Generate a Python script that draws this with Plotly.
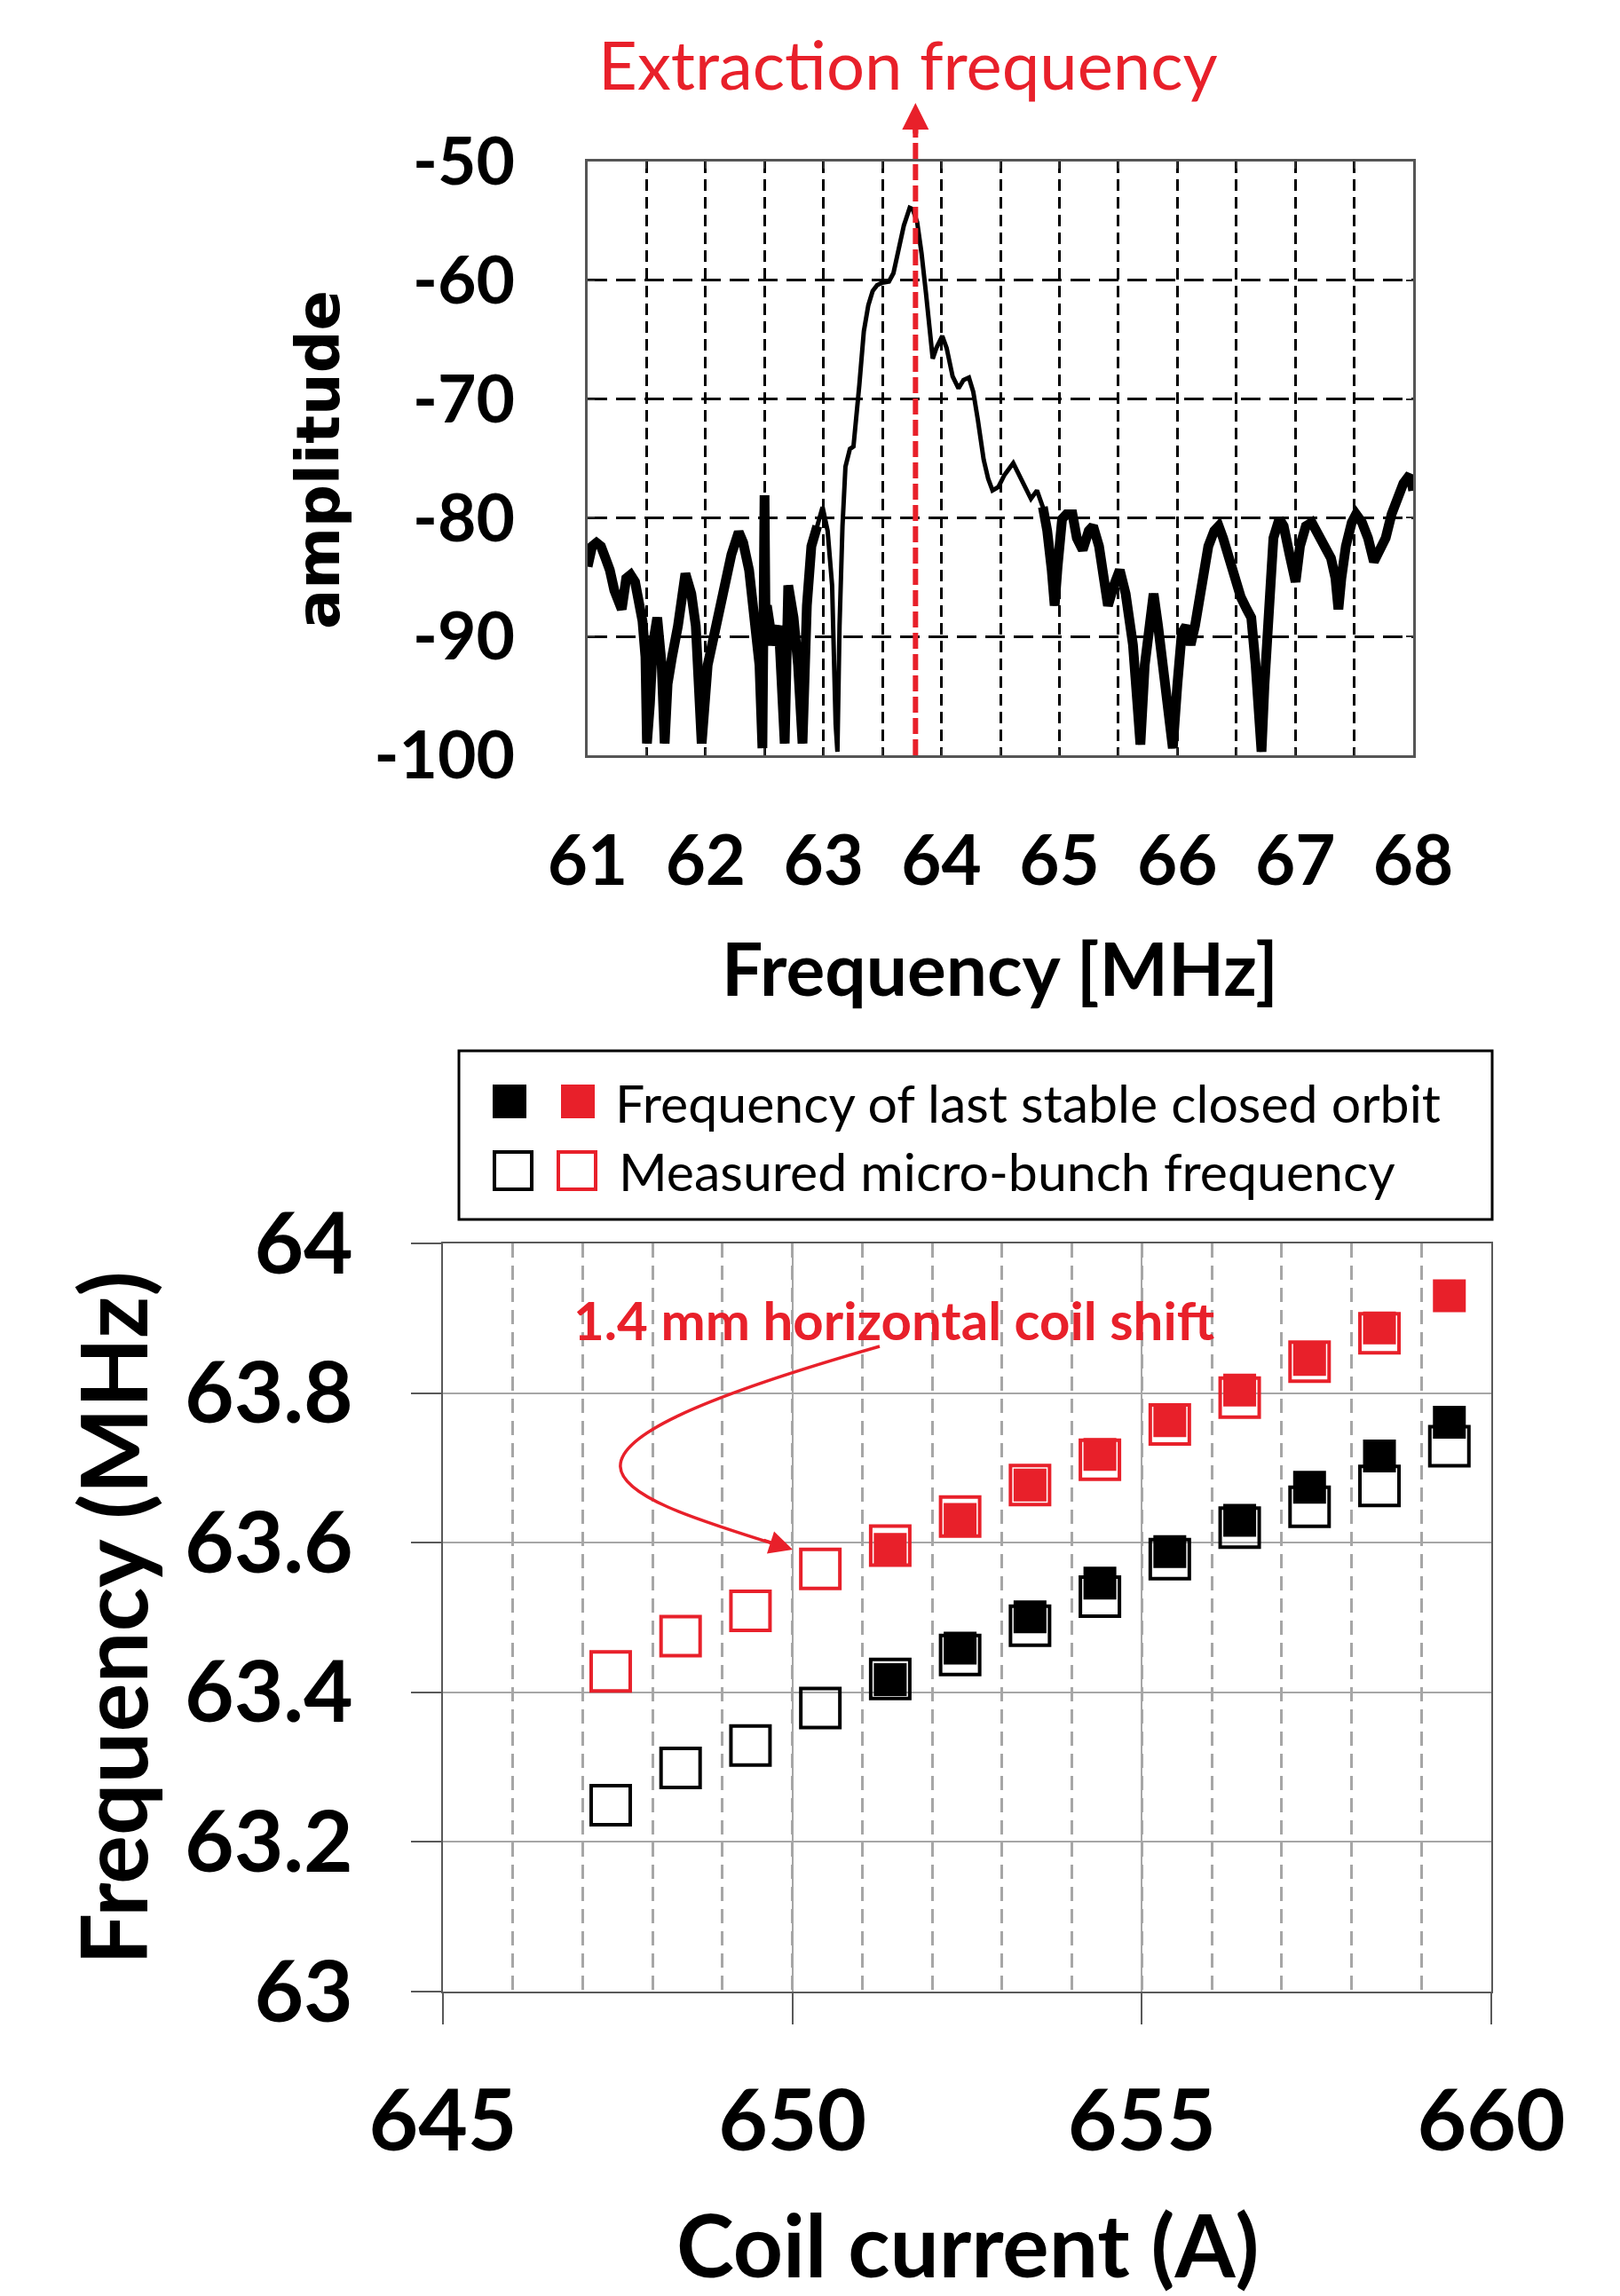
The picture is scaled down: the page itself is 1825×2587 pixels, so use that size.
import plotly.graph_objects as go

# ---------------- data: spectrum (top panel) ----------------
SPEC_FREQ_MHZ = [
    61.000, 61.038, 61.075, 61.113, 61.151, 61.188, 61.226, 61.264, 61.289, 61.327,
    61.364, 61.402, 61.440, 61.465, 61.490, 61.503, 61.528, 61.553, 61.590, 61.628,
    61.653, 61.678, 61.716, 61.766, 61.829, 61.879, 61.917, 61.967, 62.018, 62.068,
    62.118, 62.168, 62.219, 62.281, 62.319, 62.369, 62.420, 62.457, 62.482, 62.500,
    62.508, 62.520, 62.570, 62.621, 62.671, 62.701, 62.746, 62.784, 62.822, 62.859,
    62.897, 62.947, 62.992, 63.035, 63.073, 63.103, 63.118, 63.136, 63.161, 63.186,
    63.224, 63.254, 63.279, 63.304, 63.342, 63.380, 63.417, 63.455, 63.500, 63.555,
    63.593, 63.630, 63.681, 63.731, 63.756, 63.794, 63.831, 63.869, 63.901, 63.926,
    63.957, 64.007, 64.044, 64.095, 64.145, 64.187, 64.233, 64.270, 64.308, 64.358,
    64.396, 64.433, 64.483, 64.534, 64.609, 64.672, 64.722, 64.759, 64.810, 64.860,
    64.897, 64.935, 64.960, 64.985, 65.023, 65.060, 65.111, 65.148, 65.198, 65.249,
    65.286, 65.336, 65.387, 65.412, 65.462, 65.512, 65.562, 65.624, 65.662, 65.687,
    65.724, 65.762, 65.799, 65.837, 65.875, 65.912, 65.962, 66.000, 66.038, 66.075,
    66.113, 66.150, 66.188, 66.226, 66.263, 66.313, 66.351, 66.388, 66.439, 66.489,
    66.539, 66.589, 66.627, 66.664, 66.689, 66.714, 66.739, 66.777, 66.815, 66.865,
    66.902, 66.952, 67.003, 67.040, 67.090, 67.140, 67.190, 67.241, 67.303, 67.341,
    67.366, 67.391, 67.429, 67.479, 67.516, 67.566, 67.617, 67.667, 67.717, 67.767,
    67.817, 67.867, 67.917, 67.955, 67.980, 68.000,
]
SPEC_AMP_DB = [
    -84.1, -82.4, -82.1, -82.4, -83.4, -84.4, -86.1, -87.4, -87.7, -85.1,
    -84.8, -85.4, -87.1, -88.7, -91.7, -99.0, -95.7, -90.7, -88.4, -92.4,
    -99.0, -94.0, -91.7, -89.1, -84.7, -86.4, -89.1, -99.0, -92.4, -90.1,
    -87.4, -85.7, -83.1, -81.2, -82.1, -84.4, -88.4, -92.4, -99.4, -78.1,
    -88.0, -87.4, -90.7, -89.1, -99.0, -85.7, -88.4, -92.4, -99.0, -87.4,
    -82.4, -80.7, -79.1, -81.1, -85.7, -97.4, -99.7, -89.1, -80.7, -75.7,
    -74.2, -74.0, -71.6, -68.8, -64.3, -62.1, -60.9, -60.4, -60.2, -60.1,
    -59.4, -57.7, -55.4, -53.9, -54.0, -55.1, -57.7, -61.1, -64.1, -66.6,
    -65.7, -64.7, -65.7, -68.1, -69.1, -68.4, -68.2, -69.4, -71.7, -75.1,
    -76.7, -77.7, -77.4, -76.4, -75.4, -76.7, -77.7, -78.4, -77.7, -79.1,
    -81.1, -84.4, -87.4, -84.1, -80.1, -79.7, -79.7, -81.7, -82.7, -81.1,
    -80.7, -82.4, -85.1, -87.4, -85.7, -84.4, -86.4, -90.7, -95.7, -99.1,
    -92.4, -88.4, -86.4, -89.1, -92.4, -95.7, -99.4, -94.1, -89.7, -89.1,
    -90.7, -89.1, -86.4, -84.4, -82.4, -81.1, -80.7, -81.7, -83.4, -85.1,
    -86.7, -87.7, -88.4, -92.4, -96.4, -99.7, -94.1, -85.7, -81.7, -80.1,
    -80.7, -83.1, -85.4, -82.4, -80.7, -80.4, -81.4, -82.4, -83.4, -85.1,
    -87.7, -85.1, -82.4, -80.4, -79.7, -80.4, -81.7, -83.7, -82.7, -81.7,
    -79.7, -78.1, -77.1, -76.6, -76.7, -77.7,
]
EXTRACTION_FREQ_MHZ = 63.78
TOP_X_TICKS = [61, 62, 63, 64, 65, 66, 67, 68]
TOP_Y_TICKS = [-50, -60, -70, -80, -90, -100]

# ---------------- data: frequency vs coil current (bottom panel) ----------------
CURRENT_MEAS_BLACK_A = [647.4, 648.4, 649.4, 650.4, 651.4, 652.4, 653.4, 654.4,
                        655.4, 656.4, 657.4, 658.4, 659.4]
MEAS_FREQ_BLACK_MHZ = [63.249, 63.299, 63.329, 63.379, 63.418, 63.450, 63.489, 63.528,
                       63.578, 63.620, 63.648, 63.676, 63.729]
CURRENT_MEAS_RED_A = [647.4, 648.4, 649.4, 650.4, 651.4, 652.4, 653.4, 654.4,
                      655.4, 656.4, 657.4, 658.4]
MEAS_FREQ_RED_MHZ = [63.428, 63.475, 63.509, 63.565, 63.596, 63.635, 63.677, 63.711,
                     63.758, 63.794, 63.842, 63.880]
CURRENT_ORBIT_A = [651.4, 652.4, 653.4, 654.4, 655.4, 656.4, 657.4, 658.4, 659.4]
ORBIT_FREQ_BLACK_MHZ = [63.417, 63.459, 63.501, 63.546, 63.588, 63.630, 63.674, 63.716, 63.761]
ORBIT_FREQ_RED_MHZ = [63.591, 63.631, 63.677, 63.718, 63.763, 63.804, 63.845, 63.887, 63.930]
BOTTOM_X_TICKS = [645, 650, 655, 660]
BOTTOM_Y_TICKS = [63, 63.2, 63.4, 63.6, 63.8, 64]
BOTTOM_Y_TICKTEXT = ["63", "63.2", "63.4", "63.6", "63.8", "64"]

# ---------------- layout helpers (reference pixel -> paper) ----------------
W, H, OFF = 1817, 2579, 8


def xp(px):
    return (px - OFF) / W


def yp(py):
    return 1 - (py - OFF) / H


RED = "#E8202A"
CAL = "Lato, 'Open Sans', sans-serif"
VER = "'DejaVu Sans', Verdana, sans-serif"

# bottom plot pixel frame (used for annotation geometry)
B_L, B_R, B_T, B_B = 499, 1680, 1401, 2244


def x2d(px):
    return 645 + (px - B_L) / (B_R - B_L) * 15


def y2d(py):
    return 64 - (py - B_T) / (B_B - B_T)


fig = go.Figure()

# spectrum: smooth line + thicker overlay for the noisy portions
fig.add_trace(go.Scatter(x=SPEC_FREQ_MHZ, y=SPEC_AMP_DB, mode="lines",
                         line=dict(color="black", width=5), xaxis="x", yaxis="y",
                         hoverinfo="skip"))
noisy_y = [a if (f < 62.95 or f > 64.85) else None for f, a in zip(SPEC_FREQ_MHZ, SPEC_AMP_DB)]
fig.add_trace(go.Scatter(x=SPEC_FREQ_MHZ, y=noisy_y, mode="lines",
                         line=dict(color="black", width=11), xaxis="x", yaxis="y",
                         connectgaps=False, hoverinfo="skip"))

# bottom markers
fig.add_trace(go.Scatter(x=CURRENT_ORBIT_A, y=ORBIT_FREQ_BLACK_MHZ, mode="markers",
                         marker=dict(symbol="square", size=37, color="black", line=dict(width=0)),
                         xaxis="x2", yaxis="y2"))
fig.add_trace(go.Scatter(x=CURRENT_ORBIT_A, y=ORBIT_FREQ_RED_MHZ, mode="markers",
                         marker=dict(symbol="square", size=37, color=RED, line=dict(width=0)),
                         xaxis="x2", yaxis="y2"))
fig.add_trace(go.Scatter(x=CURRENT_MEAS_BLACK_A, y=MEAS_FREQ_BLACK_MHZ, mode="markers",
                         marker=dict(symbol="square-open", size=44, color="black",
                                     line=dict(width=4, color="black")),
                         xaxis="x2", yaxis="y2"))
fig.add_trace(go.Scatter(x=CURRENT_MEAS_RED_A, y=MEAS_FREQ_RED_MHZ, mode="markers",
                         marker=dict(symbol="square-open", size=44, color=RED,
                                     line=dict(width=4, color=RED)),
                         xaxis="x2", yaxis="y2"))

fig.update_layout(
    template="none",
    width=W, height=H, autosize=False,
    margin=dict(l=0, r=0, t=0, b=0, pad=0, autoexpand=False),
    paper_bgcolor="white", plot_bgcolor="white",
    showlegend=False,
    xaxis=dict(
        domain=[xp(662), xp(1592)], range=[61, 68], anchor="y", automargin=False,
        tickmode="array", tickvals=TOP_X_TICKS, ticktext=[str(v) for v in TOP_X_TICKS],
        ticks="inside", ticklen=8, tickwidth=2, tickcolor="#333",
        showline=True, linecolor="#555", linewidth=3, mirror="ticks",
        showgrid=True, gridcolor="black", gridwidth=2.5, griddash="13px,7px",
        minor=dict(dtick=0.5, tick0=61, ticks="inside", ticklen=8, tickwidth=2, tickcolor="#333",
                   showgrid=True, gridcolor="black", gridwidth=2.5, griddash="13px,7px"),
        zeroline=False, tickfont=dict(family=CAL, size=78, color="black", weight="bold"),
        ticklabelstandoff=49,
    ),
    yaxis=dict(
        domain=[yp(851), yp(182)], range=[-100, -50], anchor="x", automargin=False,
        tickmode="array", tickvals=TOP_Y_TICKS, ticktext=[str(v) for v in TOP_Y_TICKS],
        ticks="inside", ticklen=8, tickwidth=2, tickcolor="#333",
        showline=True, linecolor="#555", linewidth=3, mirror="ticks",
        showgrid=True, gridcolor="black", gridwidth=2.5, griddash="22px,10px",
        zeroline=False, tickfont=dict(family=CAL, size=75, color="black", weight="bold"),
        ticklabelstandoff=64,
    ),
    xaxis2=dict(
        domain=[xp(B_L), xp(B_R)], range=[645, 660], anchor="y2", automargin=False,
        tickmode="array", tickvals=BOTTOM_X_TICKS, ticktext=[str(v) for v in BOTTOM_X_TICKS],
        ticks="outside", ticklen=35, tickwidth=2, tickcolor="#595959",
        showline=True, linecolor="#595959", linewidth=2, mirror=True,
        showgrid=True, gridcolor="#a6a6a6", gridwidth=2,
        minor=dict(dtick=1, tick0=645, showgrid=True, gridcolor="#a6a6a6", gridwidth=3,
                   griddash="16px,9px", ticks=""),
        zeroline=False, tickfont=dict(family=CAL, size=96, color="black", weight="bold"),
        ticklabelstandoff=27,
    ),
    yaxis2=dict(
        domain=[yp(B_B), yp(B_T)], range=[63, 64], anchor="x2", automargin=False,
        tickmode="array", tickvals=BOTTOM_Y_TICKS, ticktext=BOTTOM_Y_TICKTEXT,
        ticks="outside", ticklen=34, tickwidth=2, tickcolor="#595959",
        showline=True, linecolor="#595959", linewidth=2, mirror=True,
        showgrid=True, gridcolor="#a6a6a6", gridwidth=2,
        zeroline=False, tickfont=dict(family=CAL, size=96, color="black", weight="bold"),
        ticklabelstandoff=46,
    ),
)

shapes = []
# extraction frequency marker (dashed red line extending above the plot)
shapes.append(dict(type="line", xref="x", yref="paper",
                   x0=EXTRACTION_FREQ_MHZ, x1=EXTRACTION_FREQ_MHZ, y0=yp(851), y1=yp(142),
                   line=dict(color=RED, width=6, dash="18px,6px"), layer="above"))
# curved arrow for "1.4 mm horizontal coil shift"
p0 = (x2d(991), y2d(1517))
p1 = (x2d(560), y2d(1640))
p2 = (x2d(680), y2d(1680))
p3 = (x2d(880), y2d(1742))
shapes.append(dict(type="path", xref="x2", yref="y2",
                   path=f"M {p0[0]},{p0[1]} C {p1[0]},{p1[1]} {p2[0]},{p2[1]} {p3[0]},{p3[1]}",
                   line=dict(color=RED, width=3.5), layer="above"))
# legend box
shapes.append(dict(type="rect", xref="paper", yref="paper",
                   x0=xp(517), x1=xp(1681), y0=yp(1374), y1=yp(1184),
                   line=dict(color="black", width=3), fillcolor="white", layer="above"))
# legend swatches (filled)
for cx, col in [(574, "black"), (651, RED)]:
    shapes.append(dict(type="rect", xref="paper", yref="paper",
                       x0=xp(cx - 19), x1=xp(cx + 19), y0=yp(1260), y1=yp(1222),
                       line=dict(width=0), fillcolor=col, layer="above"))
# legend swatches (open)
for cx, col in [(578, "black"), (650, RED)]:
    shapes.append(dict(type="rect", xref="paper", yref="paper",
                       x0=xp(cx - 21), x1=xp(cx + 21), y0=yp(1340), y1=yp(1298),
                       line=dict(width=4, color=col), fillcolor="rgba(0,0,0,0)", layer="above"))
fig.update_layout(shapes=shapes)

ann = []


def txt(text, x, y, size, family=CAL, color="black", bold=True, angle=0, xanchor="center"):
    ann.append(dict(text=text, x=xp(x), y=yp(y), xref="paper", yref="paper",
                    xanchor=xanchor, yanchor="middle", showarrow=False, textangle=angle,
                    font=dict(family=family, size=size, color=color,
                              weight="bold" if bold else "normal")))


txt("Extraction frequency", 1023, 72, 76, color=RED, bold=False)
txt("amplitude", 359, 518, 67, family=VER, angle=-90)
txt("Frequency [MHz]", 1126, 1090, 82)
txt("1.4 mm horizontal coil shift", 1007, 1487, 60, color=RED)
txt("Frequency (MHz)", 126, 1823, 103, angle=-90)
txt("Coil current (A)", 1090, 2528, 98)
txt("Frequency of last stable closed orbit", 691, 1243, 59, bold=False, xanchor="left")
txt("Measured micro-bunch frequency", 695, 1320, 59, bold=False, xanchor="left")

# arrow heads
ann.append(dict(x=EXTRACTION_FREQ_MHZ, y=yp(116), xref="x", yref="paper", text="",
                showarrow=True, ax=0, ay=36, arrowhead=2, arrowsize=1, arrowwidth=6,
                arrowcolor=RED))
ann.append(dict(x=x2d(893), y=y2d(1746), xref="x2", yref="y2", text="",
                showarrow=True, ax=-34, ay=-11, arrowhead=2, arrowsize=1.5, arrowwidth=3.5,
                arrowcolor=RED))
fig.update_layout(annotations=ann)

fig.write_html("out.html")
